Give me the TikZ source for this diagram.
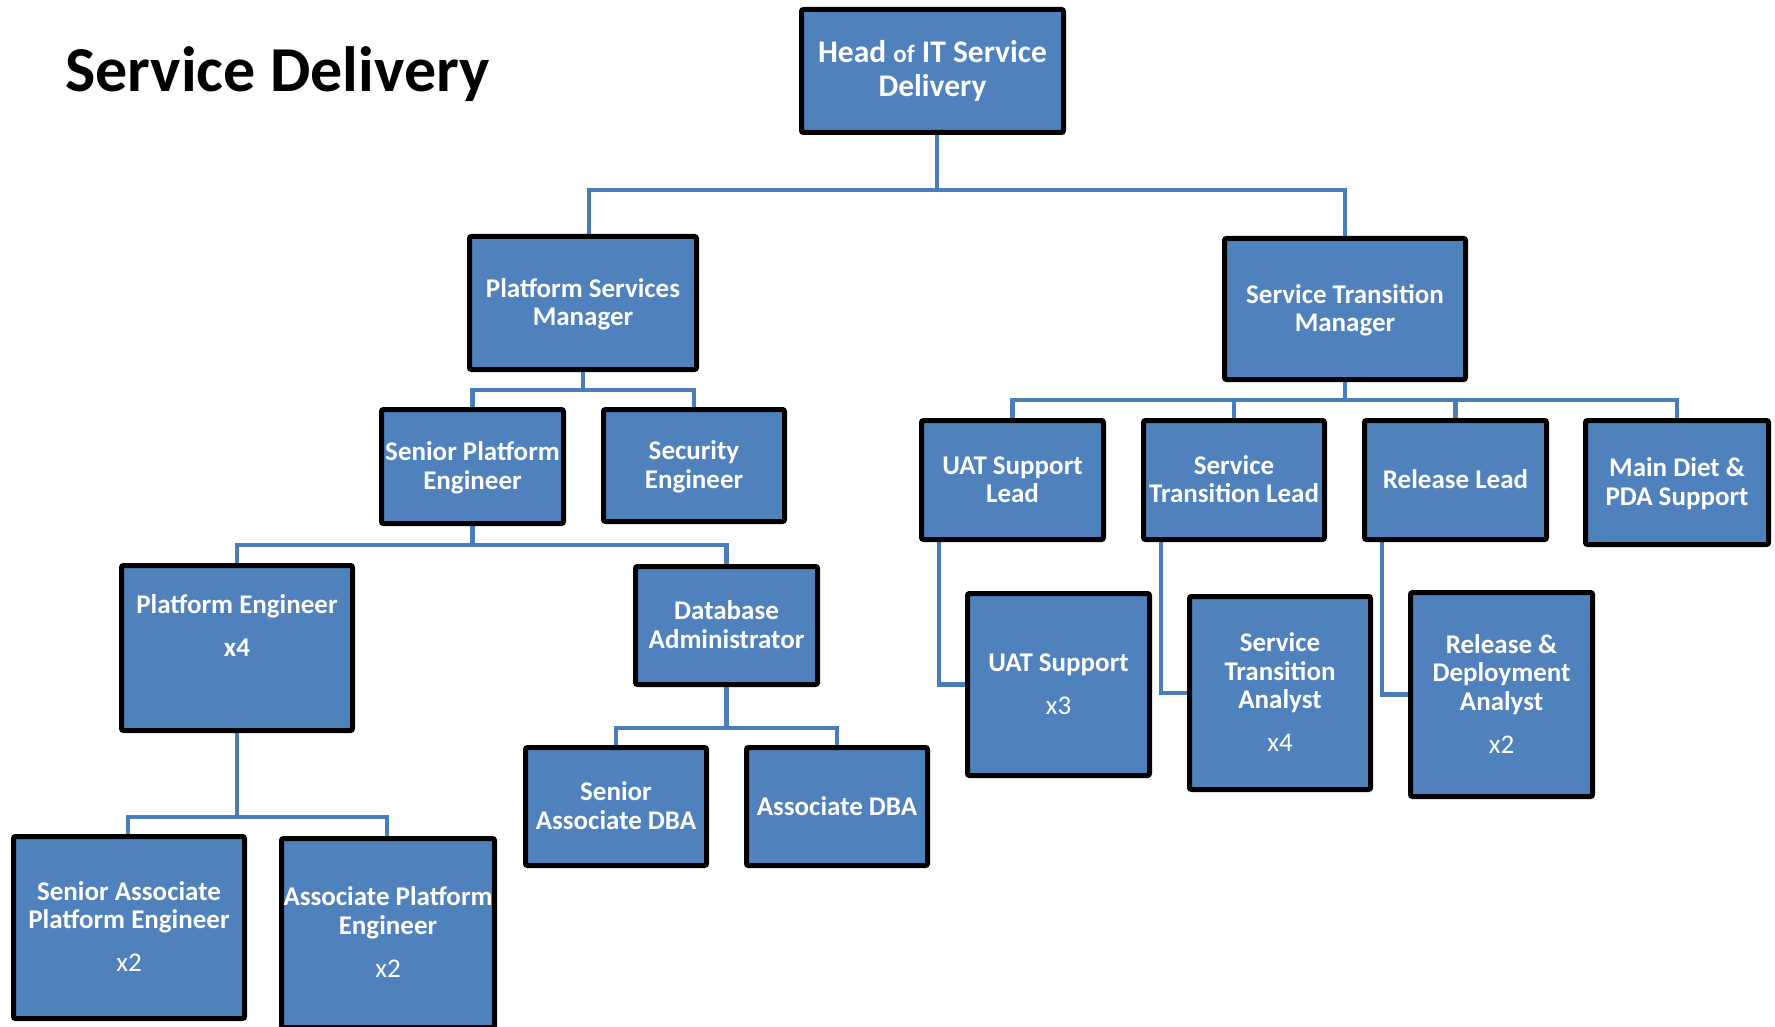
\documentclass[tikz,border=0pt]{standalone}
\usepackage{fontspec}
\setmainfont{Carlito}
\usetikzlibrary{backgrounds}
\definecolor{boxblue}{HTML}{4F81BD}
\definecolor{linkblue}{HTML}{4A7EBB}
\tikzset{
  orgbox/.style={draw=black, line width=5pt, fill=boxblue, rounded corners=2pt,
    text=white, align=center, inner sep=0pt,
    font=\fontsize{27}{28.5}\selectfont\bfseries,
    execute at end node={\rule[-7pt]{0pt}{7pt}}},
  conn/.style={draw=linkblue, line width=4.5pt},
  headline/.style={font=\fontsize{64}{76}\selectfont\bfseries, inner sep=0pt, text=black}
}
% fixed height of the first text line, so every label sits alike in its box
\newcommand\firstline{\rule{0pt}{24pt}}
% headcount line under a job title
\newcommand\headcount[1]{\\[14.5pt]{\mdseries #1}}
\begin{document}
\begin{tikzpicture}[x=1pt,y=-1pt]
\useasboundingbox (0,0) rectangle (1775,1027);
\clip (0,0) rectangle (1775,1027);

\node[headline, anchor=base west] (title) at (65,92) {Service Delivery};

% top level
\node[orgbox, minimum width=262pt, minimum height=123pt,
      font=\fontsize{31.5}{34}\selectfont\bfseries] (head) at (932.5,71)
  {\firstline Head {\fontsize{25}{34}\selectfont of} IT Service\\Delivery};

% managers
\node[orgbox, minimum width=227pt, minimum height=133pt] (psm) at (583,303) {\firstline Platform Services\\Manager};
\node[orgbox, minimum width=241pt, minimum height=141pt] (stm) at (1345,309) {\firstline Service Transition\\Manager};

% platform services branch
\node[orgbox, minimum width=182pt, minimum height=114pt] (spe) at (472.5,466.5) {\firstline Senior Platform\\Engineer};
\node[orgbox, minimum width=181pt, minimum height=112pt] (sec) at (694,465.5) {\firstline Security\\Engineer};
\node[orgbox, minimum width=231pt, minimum height=165pt] (pe) at (237,648) {\firstline Platform Engineer\\[14.5pt]x4\\[14.5pt]\mbox{}};
\node[orgbox, minimum width=182pt, minimum height=118pt] (dba) at (726.5,625.5) {\firstline Database\\Administrator};
\node[orgbox, minimum width=231pt, minimum height=182pt] (sape) at (129,927.5) {\firstline Senior Associate\\Platform Engineer\headcount{x2}};
\node[orgbox, minimum width=213pt, minimum height=189pt] (ape) at (388,933) {\firstline Associate Platform\\Engineer\headcount{x2}};
\node[orgbox, minimum width=181pt, minimum height=118pt] (sadba) at (616,806.5) {\firstline Senior\\Associate DBA};
\node[orgbox, minimum width=181pt, minimum height=118pt] (adba) at (837,806.5) {\firstline Associate DBA};

% service transition branch
\node[orgbox, minimum width=182pt, minimum height=119pt] (uatl) at (1012.5,480) {\firstline UAT Support\\Lead};
\node[orgbox, minimum width=181pt, minimum height=119pt] (stl) at (1234,480) {\firstline Service\\Transition Lead};
\node[orgbox, minimum width=182pt, minimum height=119pt] (rl) at (1455.5,480) {\firstline Release Lead};
\node[orgbox, minimum width=183pt, minimum height=124pt] (mdp) at (1677,482.5) {\firstline Main Diet \&\\PDA Support};
\node[orgbox, minimum width=182pt, minimum height=182pt] (uats) at (1058.5,684.5) {\firstline UAT Support\headcount{x3}};
\node[orgbox, minimum width=181pt, minimum height=193pt] (sta) at (1280,693) {\firstline Service\\Transition\\Analyst\headcount{x4}};
\node[orgbox, minimum width=182pt, minimum height=204pt] (rda) at (1501.5,694.5) {\firstline Release \&\\Deployment\\Analyst\headcount{x2}};

% reporting lines, drawn behind the boxes
\begin{pgfonlayer}{background}
  \fill[white] (0,0) rectangle (1775,1027);
  \coordinate (hbus) at (937,190);
  \draw[conn] (head.south -| hbus) -- (hbus);
  \draw[conn] ([xshift=6pt]psm.north) |- (hbus) -| (stm.north);

  \coordinate (pbus) at (583,390);
  \draw[conn] (psm.south) -- (pbus);
  \draw[conn] (spe.north) |- (pbus) -| (sec.north);

  \coordinate (sbus) at (472.5,545);
  \draw[conn] (spe.south) -- (sbus);
  \draw[conn] (pe.north) |- (sbus) -| (dba.north);

  \coordinate (ebus) at (237,817);
  \draw[conn] (pe.south) -- (ebus);
  \draw[conn] ([xshift=-1pt]sape.north) |- (ebus) -| ([xshift=-1pt]ape.north);

  \coordinate (dbus) at (726.5,728);
  \draw[conn] (dba.south) -- (dbus);
  \draw[conn] (sadba.north) |- (dbus) -| (adba.north);

  \coordinate (tbus) at (1345,400);
  \draw[conn] (stm.south) -- (tbus);
  \draw[conn] (uatl.north) |- (tbus) -| (mdp.north);
  \draw[conn] (stl.north) -- (stl.north |- tbus);
  \draw[conn] (rl.north) -- (rl.north |- tbus);

  \draw[conn] ([xshift=-73.5pt]uatl.south) |- (uats.west);
  \draw[conn] ([xshift=-73pt]stl.south) |- (sta.west);
  \draw[conn] ([xshift=-73.5pt]rl.south) |- (rda.west);
\end{pgfonlayer}
\end{tikzpicture}
\end{document}
